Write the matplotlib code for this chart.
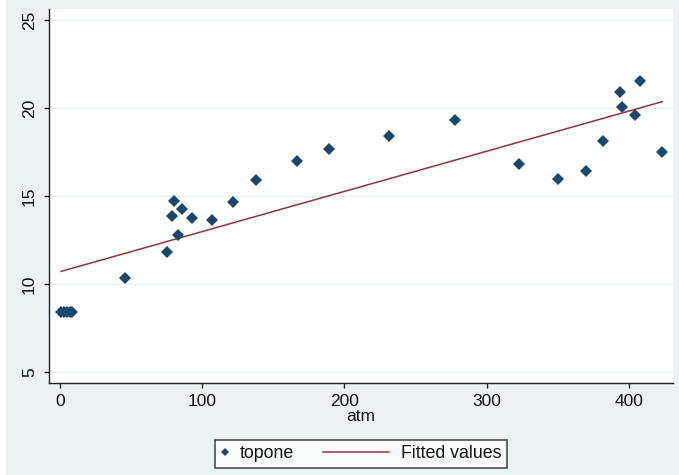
import numpy as np
import matplotlib
matplotlib.use("Agg")
import matplotlib.pyplot as plt
from matplotlib.lines import Line2D
from matplotlib.legend_handler import HandlerLine2D

# ---- data ----
atm = [0.5, 3, 5, 7, 8.5, 46, 75, 78.5, 80.5, 83, 86, 93, 107, 121.5, 138,
       166.5, 189, 231, 278, 322.5, 350.5, 369.5, 381.5, 393.5, 395,
       404.5, 407.5, 423.5]
topone = [8.4, 8.4, 8.4, 8.4, 8.4, 10.35, 11.8, 13.85, 14.7, 12.8, 14.25,
          13.75, 13.65, 14.65, 15.9, 17.0, 17.7, 18.4, 19.35, 16.85, 15.95,
          16.45, 18.15, 20.9, 20.1, 19.6, 21.55, 17.5]
fit_atm = [0.8, 423.5]
fit_values = [10.72, 20.38]
xticks = [0, 100, 200, 300, 400]
yticks = [5, 10, 15, 20, 25]

BG = "#EAF2F3"
NAVY = "#1A476F"
MAROON = "#90353B"

plt.rcParams['font.family'] = ['Liberation Sans', 'DejaVu Sans']

fig = plt.figure(figsize=(6.79, 4.75), dpi=100, facecolor=BG)
W, H = 679, 475
ax = fig.add_axes([49 / W, 1 - 383 / H, (673 - 49) / W, (383 - 9) / H])
ax.set_facecolor("white")

ax.plot(fit_atm, fit_values, color=MAROON, lw=1.1, zorder=2)
ax.plot(atm, topone, linestyle="none", marker="D", markersize=6,
        color=NAVY, markeredgewidth=0, zorder=3)

ax.set_xlim(-7.7, 431)
ax.set_ylim(4.37, 25.65)
ax.set_xticks(xticks)
ax.set_yticks(yticks)
ax.set_xticklabels([str(v) for v in xticks])
ax.set_yticklabels([str(v) for v in yticks], rotation=90, va="center")
ax.yaxis.grid(True, color=BG, lw=1.0, zorder=0)
ax.set_axisbelow(True)

for s in ["top", "right"]:
    ax.spines[s].set_visible(False)
for s in ["left", "bottom"]:
    ax.spines[s].set_color("#222222")
    ax.spines[s].set_linewidth(1.0)
ax.tick_params(axis="both", direction="out", length=3.6, width=1.0,
               color="#222222", labelsize=12.5, labelcolor="#111111")
ax.tick_params(axis="x", pad=4)
ax.tick_params(axis="y", pad=5)

ax.set_xlabel("atm", fontsize=12.5, labelpad=0, color="#111111")


class LongLineHandler(HandlerLine2D):
    def __init__(self, extra, **kw):
        super().__init__(**kw)
        self.extra = extra

    def get_xdata(self, legend, xdescent, ydescent, width, height, fontsize):
        xdata, xm = super().get_xdata(legend, xdescent, ydescent, width,
                                      height, fontsize)
        xdata = np.array([-xdescent - self.extra, -xdescent + width - 1])
        return xdata, xm


h_dot = Line2D([], [], linestyle="none", marker="D", markersize=4.5,
               color=NAVY, markeredgewidth=0)
h_line = Line2D([], [], color=MAROON, lw=1.1)

leg = fig.legend([h_dot, h_line], ["topone", "Fitted values"],
                 loc="center", bbox_to_anchor=(361 / W, 1 - 454 / H),
                 ncol=2, fontsize=12.8, frameon=True, fancybox=False,
                 handlelength=0.5, handletextpad=0.6, columnspacing=4.9,
                 borderpad=0.33, borderaxespad=0,
                 handler_map={h_line: LongLineHandler(42)})
leg.get_frame().set_edgecolor("#222222")
leg.get_frame().set_linewidth(1.2)
leg.get_frame().set_facecolor("white")
for t in leg.get_texts():
    t.set_color("#111111")

# thin white strip on the left edge as in the reference
fig.patches.append(plt.Rectangle((0, 0), 6 / W, 1, transform=fig.transFigure,
                                 facecolor="white", edgecolor="none",
                                 zorder=-1))

fig.savefig("out.png", dpi=100, facecolor=BG)
